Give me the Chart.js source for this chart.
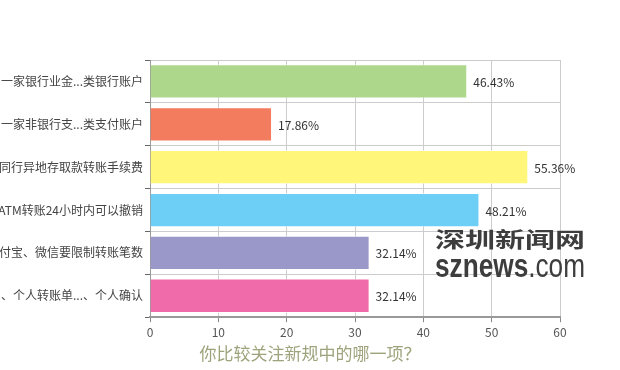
<!DOCTYPE html>
<html>
<head>
<meta charset="utf-8">
<script src="https://cdn.jsdelivr.net/npm/chart.js@4.4.1/dist/chart.umd.min.js"></script>
<style>
body{margin:0;background:#fff;}
#wrap{width:620px;height:370px;position:relative;}
</style>
</head>
<body>
<div id="wrap"><canvas id="myChart" width="620" height="370"></canvas></div>
<script>
var items=["个人在同一家银行业金...类银行账户","个人在同一家非银行支...类支付账户","取消同行异地存取款转账手续费","通过ATM转账24小时内可以撤销","支付宝、微信要限制转账笔数","实名、个人转账单...、个人确认"];
var percents=[46.43,17.86,55.36,48.21,32.14,32.14];
var colors=["#add88c","#f47c5e","#fff67a","#6ecff6","#9a97c9","#f06ba9"];
var xTicks=[0,10,20,30,40,50,60];
var question="你比较关注新规中的哪一项？";

var font="'Noto Sans CJK SC', 'Noto Sans', sans-serif";

var valueLabels={
    id:"valueLabels",
    afterDatasetsDraw:function(chart){
        var ctx=chart.ctx;
        var meta=chart.getDatasetMeta(0);
        ctx.save();
        ctx.font="12px "+font;
        ctx.fillStyle="#333";
        ctx.textAlign="left";
        ctx.textBaseline="middle";
        meta.data.forEach(function(bar,i){
            ctx.fillText(percents[i].toFixed(2)+"%",bar.x+6,bar.y+1);
        });
        ctx.restore();
    }
};

// site watermark, stretched to the same box as in the picture
var watermark={
    id:"watermark",
    afterDraw:function(chart){
        var ctx=chart.ctx;
        var x=435, boxW=150;
        ctx.save();
        ctx.fillStyle="#3d3d3d";
        ctx.textBaseline="middle";
        ctx.font="bold 21px "+font;
        var w1=ctx.measureText("深圳新闻网").width;
        ctx.save();
        ctx.translate(x,239);
        ctx.scale(boxW/w1,1);
        ctx.fillText("深圳新闻网",0,0);
        ctx.restore();

        ctx.textBaseline="alphabetic";
        ctx.font="bold 33px 'Liberation Sans', sans-serif";
        var wa=ctx.measureText("sznews").width;
        ctx.font="33px 'Liberation Sans', sans-serif";
        var wb=ctx.measureText(".com").width;
        ctx.save();
        ctx.translate(x,277);
        ctx.scale(boxW/(wa+wb),1);
        ctx.font="bold 33px 'Liberation Sans', sans-serif";
        ctx.fillText("sznews",0,0);
        ctx.font="33px 'Liberation Sans', sans-serif";
        ctx.fillText(".com",wa,0);
        ctx.restore();
        ctx.restore();
    }
};

var ctx=document.getElementById("myChart");
var myChart=new Chart(ctx,{
    type:"bar",
    data:{
        labels:items,
        datasets:[{
            data:percents,
            backgroundColor:colors,
            borderColor:"rgba(255,255,255,0.6)",
            borderWidth:1,
            barPercentage:0.8,
            categoryPercentage:1
        }]
    },
    options:{
        indexAxis:"y",
        responsive:false,
        animation:false,
        layout:{padding:{top:60,right:0,left:0,bottom:3}},
        plugins:{
            legend:{display:false},
            tooltip:{enabled:false},
            title:{
                display:true,
                position:"bottom",
                text:question,
                color:"#9ea37c",
                font:{family:font,size:17,weight:"normal"},
                padding:{top:1,bottom:3}
            }
        },
        scales:{
            x:{
                min:0,
                max:60,
                afterBuildTicks:function(scale){
                    scale.ticks=xTicks.map(function(v){return {value:v};});
                },
                grid:{color:"#cccccc",tickColor:"#888",tickLength:5},
                border:{color:"#999",width:2},
                ticks:{color:"#555",font:{family:font,size:12},padding:3}
            },
            y:{
                afterFit:function(scale){scale.width=150;},
                grid:{color:"#cccccc",tickColor:"#666",tickLength:5},
                border:{color:"#999",width:1},
                ticks:{color:"#444",font:{family:font,size:12},padding:2}
            },
            side:{
                type:"linear",
                position:"right",
                afterFit:function(scale){scale.width=60;},
                ticks:{display:false},
                grid:{display:false,drawTicks:false},
                border:{display:false}
            }
        }
    },
    plugins:[valueLabels,watermark]
});
</script>
</body>
</html>
